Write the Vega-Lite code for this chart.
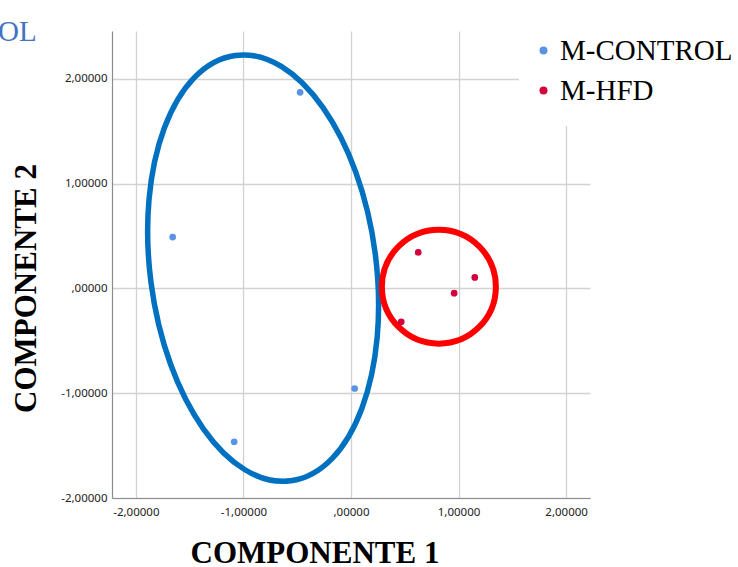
{
  "$schema": "https://vega.github.io/schema/vega-lite/v6.json",
  "width": 478,
  "height": 467,
  "autosize": {"type": "none"},
  "padding": {"left": 112, "top": 31, "right": 148, "bottom": 69},
  "background": "white",
  "config": {
    "view": {"stroke": null},
    "axis": {
      "ticks": false,
      "domainColor": "#8c8c8c",
      "domainWidth": 1.2,
      "gridColor": "#d2d2d2",
      "gridWidth": 1.3,
      "labelFont": "Noto Sans",
      "labelFontSize": 11.5,
      "labelColor": "#222222",
      "labelFlush": false,
      "labelOverlap": false,
      "titleFont": "Liberation Serif",
      "titleFontSize": 31,
      "titleFontWeight": "bold",
      "titleColor": "#000000"
    }
  },
  "title": {
    "text": "OL",
    "anchor": "start",
    "frame": "group",
    "font": "Liberation Serif",
    "fontSize": 29,
    "fontWeight": "normal",
    "color": "#4472c4",
    "baseline": "alphabetic",
    "offset": 0,
    "dx": -114,
    "dy": 54
  },
  "datasets": {
    "points": [
      {"group": "M-CONTROL", "c1": -0.473, "c2": 1.872},
      {"group": "M-CONTROL", "c1": -1.658, "c2": 0.49},
      {"group": "M-CONTROL", "c1": 0.034, "c2": -0.955},
      {"group": "M-CONTROL", "c1": -1.086, "c2": -1.463},
      {"group": "M-HFD", "c1": 0.625, "c2": 0.344},
      {"group": "M-HFD", "c1": 1.151, "c2": 0.105},
      {"group": "M-HFD", "c1": 0.959, "c2": -0.045},
      {"group": "M-HFD", "c1": 0.467, "c2": -0.319}
    ],
    "ellipses": [
      {"group": "M-CONTROL", "c1": -0.817, "c2": 0.194},
      {"group": "M-HFD", "c1": 0.817, "c2": 0.017}
    ]
  },
  "encoding": {
    "x": {
      "field": "c1",
      "type": "quantitative",
      "scale": {"domain": [-2.222, 2.222], "nice": false, "zero": false},
      "axis": {
        "values": [-2, -1, 0, 1, 2],
        "title": "COMPONENTE 1",
        "titleX": 202.5,
        "titleY": 64.5,
        "titleAlign": "center",
        "titleBaseline": "alphabetic",
        "labelPadding": 8,
        "labelExpr": "datum.value == 0 ? ',00000' : (datum.value < 0 ? '-' : '') + replace(format(abs(datum.value), '.5f'), '.', ',')"
      }
    },
    "y": {
      "field": "c2",
      "type": "quantitative",
      "scale": {"domain": [-2, 2.457], "nice": false, "zero": false},
      "axis": {
        "values": [-2, -1, 0, 1, 2],
        "title": "COMPONENTE 2",
        "titleAngle": -90,
        "titleX": -77,
        "titleY": 257,
        "titleAlign": "center",
        "titleBaseline": "alphabetic",
        "labelPadding": 5,
        "labelExpr": "datum.value == 0 ? ',00000' : (datum.value < 0 ? '-' : '') + replace(format(abs(datum.value), '.5f'), '.', ',')"
      }
    }
  },
  "layer": [
    {
      "data": {"name": "ellipses"},
      "transform": [{"filter": "datum.group == 'M-CONTROL'"}],
      "mark": {
        "type": "point",
        "shape": "M0,-1C0.291,-1,0.527,-0.552,0.527,0C0.527,0.552,0.291,1,0,1C-0.291,1,-0.527,0.552,-0.527,0C-0.527,-0.552,-0.291,-1,0,-1Z",
        "size": 184041,
        "angle": 352.6,
        "filled": false,
        "stroke": "#0070c0",
        "strokeWidth": 5.5,
        "opacity": 1
      }
    },
    {
      "data": {"name": "ellipses"},
      "transform": [{"filter": "datum.group == 'M-HFD'"}],
      "mark": {
        "type": "point",
        "shape": "circle",
        "size": 12996,
        "filled": false,
        "stroke": "#ff0000",
        "strokeWidth": 6,
        "opacity": 1
      }
    },
    {
      "data": {"name": "points"},
      "mark": {"type": "point", "shape": "circle", "filled": true, "size": 45, "opacity": 1},
      "encoding": {
        "color": {
          "field": "group",
          "type": "nominal",
          "scale": {"domain": ["M-CONTROL", "M-HFD"], "range": ["#5b93e3", "#d4003c"]},
          "legend": {
            "title": null,
            "orient": "none",
            "legendX": 407,
            "legendY": -15,
            "fillColor": "#ffffff",
            "padding": 20,
            "symbolType": "circle",
            "symbolSize": 64,
            "symbolOffset": -10,
            "labelFont": "Liberation Serif",
            "labelFontSize": 29,
            "labelOffset": 2,
            "labelLimit": 400,
            "rowPadding": 10,
            "encode": {
              "labels": {"update": {"fill": {"signal": "datum.value == 'M-HFD' ? '#ff0000' : '#4472c4'"}}},
              "symbols": {"update": {"fill": {"signal": "datum.value == 'M-HFD' ? '#ff0000' : '#4472c4'"}, "stroke": {"value": "transparent"}, "opacity": {"value": 1}}}
            }
          }
        }
      }
    }
  ]
}
